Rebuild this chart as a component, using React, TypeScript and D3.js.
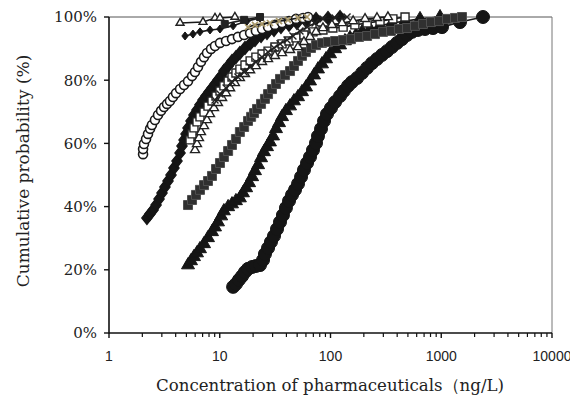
import React from 'react';
import * as d3 from 'd3';

const xTickValues = [1, 10, 100, 1000, 10000];
const xTickLabels = ['1', '10', '100', '1000', '10000'];
const yTickValues = [0, 20, 40, 60, 80, 100];
const yTickLabels = ['0%', '20%', '40%', '60%', '80%', '100%'];
const xTitle = 'Concentration of pharmaceuticals（ng/L)';
const yTitle = 'Cumulative probability (%)';

// [concentration ng/L, cumulative probability %]
const blackCircles: [number, number][] = [
  [13.2, 14.6], [14.0, 15.5], [14.9, 16.8], [15.9, 18.0], [16.9, 19.3], [18.0, 20.3], [19.6, 20.9], [21.2, 21.2],
  [23.1, 21.5], [24.6, 23.1], [25.6, 25.0], [27.3, 26.9], [29.0, 28.8], [30.9, 30.7], [32.9, 32.9], [35.0, 35.1],
  [37.2, 37.3], [39.6, 39.6], [42.2, 41.8], [44.9, 43.7], [47.8, 45.3], [50.9, 47.2], [54.2, 49.4], [57.6, 51.6],
  [61.4, 53.8], [65.3, 55.7], [69.5, 57.9], [74.0, 60.1], [77.1, 62.3], [82.1, 64.6], [87.4, 67.1], [93.0, 69.3],
  [101, 71.2], [110, 73.1], [122, 75.0], [132, 76.6], [144, 78.2], [156, 79.4], [174, 80.7], [193, 82.3],
  [214, 83.9], [237, 85.4], [263, 86.7], [292, 88.0], [324, 89.2], [359, 90.5], [399, 91.8], [442, 93.0],
  [491, 94.3], [544, 95.3], [617, 95.9], [713, 96.2], [842, 96.5], [1016, 96.8], [1477, 98.4], [2382, 100],
];

const blackTriangles: [number, number][] = [
  [5.17, 21.5], [5.50, 22.8], [5.85, 24.1], [6.23, 25.3], [6.63, 26.6], [7.21, 28.2], [7.83, 30.1], [8.51, 32.0],
  [9.06, 33.5], [9.64, 35.1], [10.3, 37.0], [10.9, 38.6], [11.9, 39.9], [12.9, 40.8], [14.0, 41.8], [15.2, 42.7],
  [16.2, 44.3], [17.3, 45.9], [18.4, 47.5], [19.6, 49.4], [20.8, 51.3], [22.2, 53.2], [23.6, 55.4], [25.1, 57.3],
  [26.7, 58.9], [28.4, 60.4], [30.3, 62.3], [32.2, 64.6], [34.3, 66.5], [36.5, 68.4], [39.6, 70.3], [43.1, 71.8],
  [46.8, 73.4], [50.9, 74.7], [55.3, 76.3], [60.1, 77.8], [65.3, 79.7], [71.0, 81.6], [77.1, 83.5], [83.8, 85.1],
  [91.1, 86.7], [99.0, 88.3], [110, 89.9], [122, 91.1], [135, 92.4], [150, 93.4], [170, 94.3], [193, 95.3],
  [227, 96.2], [280, 97.2], [359, 98.1], [471, 98.7], [643, 99.4], [975, 100],
];

const graySquares: [number, number][] = [
  [5.17, 40.5], [5.62, 42.1], [6.10, 43.7], [6.63, 45.3], [7.21, 46.8], [7.83, 48.1], [8.51, 49.7], [9.25, 51.9],
  [10.05, 53.8], [10.9, 55.7], [11.9, 57.6], [12.9, 59.5], [14.0, 61.4], [15.2, 63.6], [16.6, 65.2], [18.0, 67.1],
  [19.2, 68.4], [20.4, 69.6], [21.7, 70.9], [23.6, 72.5], [25.6, 74.1], [27.3, 75.6], [29.6, 77.2], [32.2, 78.8],
  [35.0, 80.4], [38.8, 81.6], [43.1, 82.9], [46.8, 84.5], [50.9, 86.1], [55.3, 87.7], [60.1, 88.9], [66.7, 90.2],
  [74.0, 91.1], [83.8, 91.8], [94.9, 92.1], [110, 92.4], [130, 92.7], [153, 93.0], [181, 93.7], [214, 94.0],
  [252, 94.6], [298, 95.3], [352, 95.6], [415, 96.2], [491, 96.5], [579, 97.2], [684, 97.8], [808, 98.4],
  [954, 98.7], [1127, 99.4], [1331, 99.7], [1539, 100],
];

const blackDiamonds: [number, number][] = [
  [2.20, 36.4], [2.35, 37.7], [2.50, 38.9], [2.66, 40.5], [2.83, 42.4], [3.01, 44.3], [3.20, 46.2], [3.41, 48.1],
  [3.63, 50.0], [3.86, 52.2], [4.11, 54.4], [4.38, 57.0], [4.56, 59.2], [4.76, 61.1], [4.96, 63.0], [5.17, 64.9],
  [5.50, 67.1], [5.85, 69.0], [6.23, 70.6], [6.63, 72.2], [7.06, 73.7], [7.51, 75.0], [8.00, 76.3], [8.51, 77.5],
  [9.06, 78.8], [9.64, 80.1], [10.3, 81.3], [10.9, 82.9], [11.9, 84.5], [12.9, 86.1], [14.0, 87.3], [15.2, 88.6],
  [16.9, 90.2], [18.8, 91.5], [20.8, 92.7], [23.6, 94.0], [26.7, 94.9], [30.9, 95.9], [35.7, 96.8], [42.2, 97.5],
  [49.8, 98.1], [60.1, 98.7], [74.0, 99.4], [94.9, 99.7], [122, 100],
];

const openCircles: [number, number][] = [
  [2.03, 56.6], [2.03, 58.2], [2.07, 59.8], [2.16, 61.4], [2.25, 63.0], [2.35, 64.6], [2.44, 65.8], [2.60, 67.4],
  [2.77, 69.0], [2.95, 70.3], [3.14, 71.5], [3.34, 72.5], [3.55, 73.4], [3.78, 74.7], [4.03, 75.9], [4.38, 77.2],
  [4.76, 78.5], [5.17, 79.7], [5.62, 81.3], [5.98, 82.6], [6.36, 84.2], [6.77, 85.8], [7.21, 87.3], [7.67, 88.6],
  [8.34, 89.9], [9.06, 90.8], [10.05, 91.8], [11.4, 92.4], [12.9, 93.0], [14.6, 93.7], [16.6, 94.3], [18.8, 94.9],
  [21.2, 95.6], [24.1, 96.2], [27.3, 96.8], [31.5, 97.5], [36.5, 98.1], [42.2, 98.7], [48.8, 99.4], [56.5, 99.7],
  [62.7, 100],
];

const openSquares: [number, number][] = [
  [5.39, 61.1], [5.62, 63.0], [5.85, 64.9], [6.23, 66.8], [6.63, 68.4], [7.21, 69.9], [7.83, 71.8], [8.51, 73.4],
  [9.25, 75.0], [10.05, 76.6], [10.9, 78.2], [11.9, 79.7], [12.9, 81.0], [14.0, 82.3], [15.2, 83.5], [16.9, 84.8],
  [18.8, 86.1], [21.2, 87.3], [24.1, 88.3], [27.3, 89.2], [31.5, 90.5], [36.5, 91.5], [42.2, 92.4], [48.8, 93.4],
  [57.6, 94.3], [69.5, 95.3], [85.5, 95.9], [105, 96.5], [130, 96.8], [166, 97.5], [214, 98.1], [280, 98.7],
  [366, 99.4], [471, 100],
];

const openTriangles: [number, number][] = [
  [5.98, 57.9], [6.23, 59.8], [6.49, 61.7], [6.77, 63.6], [7.21, 65.5], [7.67, 67.4], [8.17, 69.3], [8.87, 71.2],
  [9.64, 72.8], [10.5, 74.4], [11.4, 75.9], [12.4, 77.5], [13.7, 79.1], [15.2, 80.7], [16.9, 82.0], [18.8, 83.2],
  [21.2, 84.5], [24.1, 85.8], [27.3, 86.7], [31.5, 87.7], [36.5, 88.6], [43.1, 89.6], [50.9, 90.5], [57.6, 92.1],
  [65.3, 93.7], [74.0, 95.3], [85.5, 96.5], [103, 97.5], [127, 98.1], [160, 98.7], [205, 99.4], [263, 99.7],
  [330, 100],
];

const blackCrosses: [number, number][] = [
  [9.06, 73.7], [10.05, 75.6], [11.4, 77.5], [12.9, 79.4], [14.6, 81.0], [16.6, 82.6], [18.8, 84.2], [21.2, 85.8],
  [24.1, 87.3], [27.3, 88.9], [30.9, 90.2], [35.0, 91.5], [40.5, 92.7], [45.8, 94.0], [53.0, 95.6], [61.4, 96.8],
  [72.5, 98.1], [85.5, 99.4], [110, 99.7], [141, 100],
];

const khakiCrosses: [number, number][] = [
  [18.0, 96.8], [20.8, 97.5], [24.1, 97.8], [28.4, 98.1], [34.3, 98.7], [41.3, 99.1], [50.9, 99.7], [61.4, 100],
];

const smallTriangles: [number, number][] = [
  [4.38, 98.1], [7.06, 98.4], [9.06, 99.7], [10.05, 99.7], [13.7, 100],
];

const smallSquares: [number, number][] = [
  [11.1, 97.8], [16.6, 99.1], [23.1, 100],
];

const smallDiamonds: [number, number][] = [
  [4.86, 94.0], [5.73, 94.6], [6.63, 95.3], [8.17, 95.9], [10.05, 96.2], [13.2, 97.2], [17.6, 98.7], [23.1, 99.7],
];

type Shape = 'circle' | 'triangle' | 'square' | 'diamond' | 'cross';
interface SeriesDef {
  data: [number, number][];
  shape: Shape;
  size: number;
  fill: string;
  stroke: string;
  strokeWidth: number;
}

const seriesList: SeriesDef[] = [
  { data: blackCircles, shape: 'circle', size: 13, fill: '#151515', stroke: '#151515', strokeWidth: 1 },
  { data: blackTriangles, shape: 'triangle', size: 13, fill: '#151515', stroke: '#151515', strokeWidth: 1 },
  { data: graySquares, shape: 'square', size: 9, fill: '#303030', stroke: '#505050', strokeWidth: 1 },
  { data: blackDiamonds, shape: 'diamond', size: 13, fill: '#151515', stroke: '#151515', strokeWidth: 1.2 },
  { data: openSquares, shape: 'square', size: 8, fill: '#ffffff', stroke: '#222', strokeWidth: 1.4 },
  { data: openTriangles, shape: 'triangle', size: 9, fill: '#ffffff', stroke: '#222', strokeWidth: 1.4 },
  { data: blackCrosses, shape: 'cross', size: 7, fill: 'none', stroke: '#222', strokeWidth: 1.4 },
  { data: openCircles, shape: 'circle', size: 9, fill: '#ffffff', stroke: '#1a1a1a', strokeWidth: 1.6 },
  { data: khakiCrosses, shape: 'cross', size: 6, fill: 'none', stroke: '#a89868', strokeWidth: 1.7 },
  { data: smallDiamonds, shape: 'diamond', size: 8, fill: '#151515', stroke: '#151515', strokeWidth: 1 },
  { data: smallTriangles, shape: 'triangle', size: 8, fill: '#ffffff', stroke: '#222', strokeWidth: 1.4 },
  { data: smallSquares, shape: 'square', size: 7, fill: '#222', stroke: '#222', strokeWidth: 1 },
];

const W = 570;
const H = 397;
const left = 109;
const right = 552;
const top = 17;
const bottom = 333;

function markerPath(shape: Shape, s: number): string {
  const h = s / 2;
  switch (shape) {
    case 'circle':
      return d3.symbol().type(d3.symbolCircle).size(Math.PI * h * h)() as string;
    case 'square':
      return d3.symbol().type(d3.symbolSquare).size(s * s)() as string;
    case 'triangle':
      return d3.symbol().type(d3.symbolTriangle).size((Math.sqrt(3) / 4) * s * s)() as string;
    case 'diamond':
      return `M0,${-h}L${h * 0.8},0L0,${h}L${-h * 0.8},0Z`;
    case 'cross':
      return `M${-h},${-h}L${h},${h}M${-h},${h}L${h},${-h}`;
  }
}

const serif = "'DejaVu Serif', 'Liberation Serif', serif";
const sans = "'Liberation Sans', Arial, sans-serif";

export default function App() {
  const x = d3.scaleLog().domain([1, 10000]).range([left, right]);
  const y = d3.scaleLinear().domain([0, 100]).range([bottom, top]);
  const line = d3
    .line<[number, number]>()
    .x((d) => x(d[0]))
    .y((d) => y(d[1]));

  const minorTicks: number[] = [];
  for (let dec = 1; dec < 10000; dec *= 10) {
    for (let k = 2; k <= 9; k++) minorTicks.push(dec * k);
  }

  return (
    <svg
      width={W}
      height={H}
      style={{ position: 'fixed', left: 0, top: 0, background: '#fff' }}
      xmlns="http://www.w3.org/2000/svg"
    >
      <rect x={0} y={0} width={W} height={H} fill="#fff" />
      {/* frame */}
      <line x1={left} y1={top} x2={right} y2={top} stroke="#555" strokeWidth={1} />
      <line x1={right} y1={top} x2={right} y2={bottom} stroke="#777" strokeWidth={1} />

      {/* series */}
      {seriesList.map((s, i) => {
        const mp = markerPath(s.shape, s.size);
        return (
          <g key={i}>
            <path d={line(s.data) || ''} fill="none" stroke="#1a1a1a" strokeWidth={1.6} />
            {s.data.map((d, j) => (
              <path
                key={j}
                d={mp}
                transform={`translate(${x(d[0])},${y(d[1])})`}
                fill={s.fill}
                stroke={s.stroke}
                strokeWidth={s.strokeWidth}
              />
            ))}
          </g>
        );
      })}

      {/* axes */}
      <line x1={left} y1={top} x2={left} y2={bottom + 0.5} stroke="#111" strokeWidth={1.6} />
      <line x1={left} y1={bottom} x2={right} y2={bottom} stroke="#111" strokeWidth={1.6} />
      {yTickValues.map((v, i) => (
        <g key={'yt' + i}>
          <line x1={left - 5} x2={left} y1={y(v)} y2={y(v)} stroke="#111" strokeWidth={1.4} />
          <text
            x={97}
            y={y(v)}
            dy="0.36em"
            textAnchor="end"
            fontFamily={serif}
            fontSize={15}
            fill="#222"
          >
            {yTickLabels[i]}
          </text>
        </g>
      ))}
      {minorTicks.map((v, i) => (
        <line key={'mt' + i} x1={x(v)} x2={x(v)} y1={bottom} y2={bottom + 4} stroke="#111" strokeWidth={1.2} />
      ))}
      {xTickValues.map((v, i) => (
        <g key={'xt' + i}>
          <line x1={x(v)} x2={x(v)} y1={bottom} y2={bottom + 5} stroke="#111" strokeWidth={1.4} />
          <text
            x={x(v)}
            y={356}
            dy="0.36em"
            textAnchor="middle"
            fontFamily={sans}
            fontSize={14}
            fill="#222"
          >
            {xTickLabels[i]}
          </text>
        </g>
      ))}
      <text x={330} y={391} textAnchor="middle" fontFamily={serif} fontSize={16.6} fill="#222">
        {xTitle}
      </text>
      <text
        transform={`translate(29,${171}) rotate(-90)`}
        textAnchor="middle"
        fontFamily={serif}
        fontSize={17}
        fill="#222"
      >
        {yTitle}
      </text>
    </svg>
  );
}
